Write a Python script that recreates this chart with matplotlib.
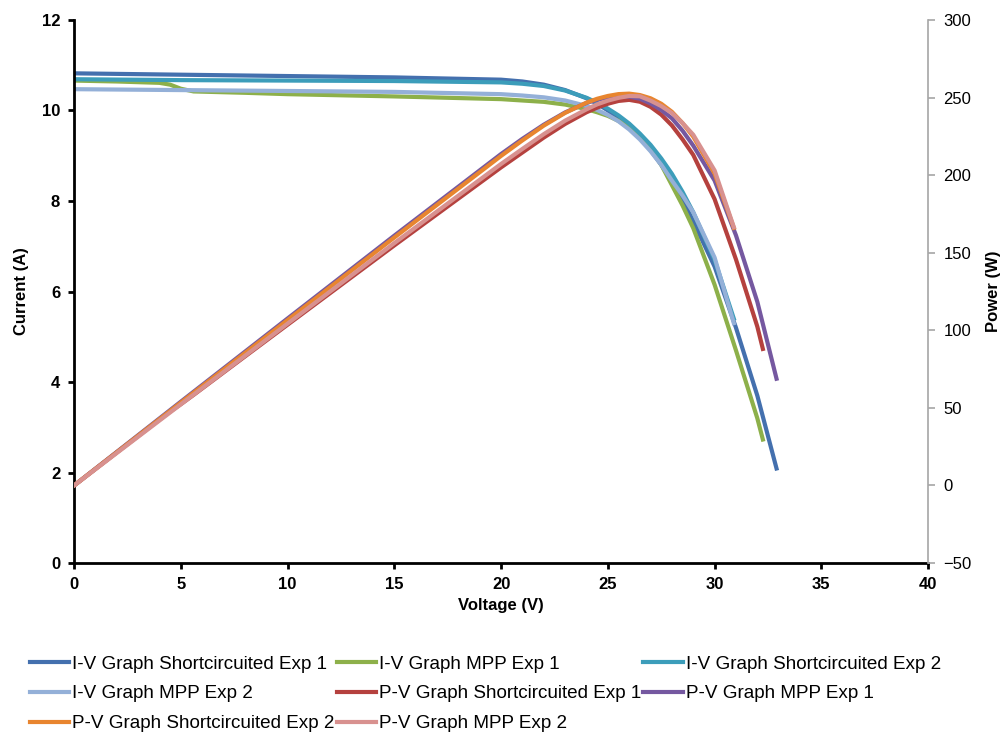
"""
IV / PV curves of the two experiments (shortcircuited vs MPP)
Left axis: current, right axis: power.
"""
import matplotlib
matplotlib.use("Agg")
import matplotlib.pyplot as plt

plt.rcParams['font.family'] = ['Liberation Sans', 'DejaVu Sans']

# --- Exp 1 sweep ending at 32.9 V
v_sc1 = [0, 5, 10, 15, 20, 21, 22, 23, 24, 24.5, 25, 25.5, 26, 26.5, 27, 27.5,
         28, 28.5, 29, 30, 31, 32, 32.9]
i_sc1 = [10.82, 10.79, 10.76, 10.73, 10.68, 10.64, 10.57, 10.45, 10.27, 10.15,
         10.00, 9.83, 9.64, 9.40, 9.12, 8.80, 8.45, 8.02, 7.55, 6.55, 5.20, 3.70, 2.09]
p_mpp1 = [0, 54, 107.6, 161, 213.6, 223.4, 232.5, 240.4, 246.5, 248.6, 250.0,
          250.7, 250.6, 249.2, 246.2, 242.0, 236.6, 228.6, 219.0, 196.5, 161.2,
          118.4, 68.8]

# --- Exp 1 sweep ending at 32.26 V
v_mpp1 = [0, 2, 4, 4.5, 5, 5.6, 8, 10, 15, 20, 22, 23, 24, 24.5, 25, 25.5, 26,
          26.5, 27, 27.5, 28, 28.5, 29, 30, 31, 32, 32.26]
i_mpp1 = [10.66, 10.64, 10.61, 10.57, 10.48, 10.42, 10.39, 10.36, 10.31, 10.25,
          10.19, 10.13, 10.03, 9.96, 9.88, 9.77, 9.62, 9.42, 9.17, 8.80, 8.35,
          7.90, 7.40, 6.15, 4.70, 3.20, 2.73]
p_sc1 = [0, 21.3, 42.4, 47.6, 52.4, 58.4, 83.1, 103.6, 154.7, 205.0, 224.2,
         233.0, 240.5, 243.5, 246.0, 247.8, 248.5, 247.3, 244.0, 239.0, 232.0,
         223.0, 213.0, 184.5, 145.7, 102.4, 88.0]

# --- Exp 2
v_exp2 = [0, 5, 10, 15, 20, 21, 22, 23, 24, 24.5, 25, 25.5, 26, 26.5, 27, 27.5,
          28, 28.5, 29, 30, 30.9]
i_sc2 = [10.69, 10.67, 10.66, 10.65, 10.62, 10.59, 10.54, 10.44, 10.28, 10.17,
         10.04, 9.89, 9.71, 9.49, 9.24, 8.94, 8.60, 8.20, 7.75, 6.70, 5.40]
i_mpp2 = [10.47, 10.45, 10.43, 10.41, 10.36, 10.33, 10.29, 10.22, 10.10, 10.01,
          9.90, 9.76, 9.58, 9.36, 9.10, 8.80, 8.45, 8.12, 7.75, 6.75, 5.30]
p_sc2 = [0, 53.4, 106.6, 159.8, 212.4, 222.4, 231.9, 240.1, 246.7, 249.2, 251.0,
         252.2, 252.5, 251.6, 249.5, 246.0, 240.8, 233.5, 224.8, 201.0, 166.0]
p_mpp2 = [0, 52.3, 104.3, 156.2, 207.2, 216.9, 226.4, 235.1, 242.4, 245.6, 248.0,
          249.8, 251.0, 250.8, 248.0, 244.5, 240.0, 233.5, 226.0, 203.0, 166.5]

labels = ['I-V Graph Shortcircuited Exp 1', 'I-V Graph MPP Exp 1',
          'I-V Graph Shortcircuited Exp 2', 'I-V Graph MPP Exp 2',
          'P-V Graph Shortcircuited Exp 1', 'P-V Graph MPP Exp 1',
          'P-V Graph Shortcircuited Exp 2', 'P-V Graph MPP Exp 2']
colors = ['#4470AE', '#8DB04A', '#3C9DBA', '#94B0D8',
          '#B5413E', '#7558A0', '#E8852F', '#D8918F']

fig = plt.figure(figsize=(10.06, 7.38), dpi=100)
ax = fig.add_axes([0.0736, 0.237, 0.849, 0.736])
ax2 = ax.twinx()

lw = 3
h = []
h += ax.plot(v_sc1, i_sc1, color=colors[0], lw=lw)
h += ax.plot(v_mpp1, i_mpp1, color=colors[1], lw=lw)
h += ax.plot(v_exp2, i_sc2, color=colors[2], lw=lw)
h += ax.plot(v_exp2, i_mpp2, color=colors[3], lw=lw)
h += ax2.plot(v_mpp1, p_sc1, color=colors[4], lw=lw)
h += ax2.plot(v_sc1, p_mpp1, color=colors[5], lw=lw)
h += ax2.plot(v_exp2, p_sc2, color=colors[6], lw=lw)
h += ax2.plot(v_exp2, p_mpp2, color=colors[7], lw=lw)

ax.set_xlim(0, 40)
ax.set_ylim(0, 12)
ax2.set_ylim(-50, 300)
ax.set_xticks(range(0, 41, 5))
ax.set_yticks(range(0, 13, 2))
ax2.set_yticks(range(-50, 301, 50))

for a in (ax, ax2):
    a.spines['top'].set_visible(False)
ax.spines['left'].set_linewidth(2)
ax.spines['bottom'].set_linewidth(2)
ax.spines['right'].set_visible(False)
ax2.spines['left'].set_visible(False)
ax2.spines['bottom'].set_visible(False)
ax2.spines['right'].set_color('#a6a6a6')
ax2.spines['right'].set_linewidth(1.2)

ax.tick_params(direction='out', length=4, width=2, labelsize=12, pad=6)
for t in ax.get_xticklabels() + ax.get_yticklabels():
    t.set_fontweight('bold')
ax2.tick_params(direction='out', length=5, width=1.2, color='#a6a6a6',
                labelsize=12, pad=6)

ax.set_xlabel('Voltage (V)', fontsize=12, fontweight='bold', labelpad=4)
ax.set_ylabel('Current (A)', fontsize=12, fontweight='bold', labelpad=9)
ax2.set_ylabel('Power (W)', fontsize=12, fontweight='bold', labelpad=10)

# legend is filled row by row in the original
order = [0, 3, 6, 1, 4, 7, 2, 5]
fig.legend([h[k] for k in order], [labels[k] for k in order],
           loc='upper left', bbox_to_anchor=(0.022, 0.122), ncol=3,
           frameon=False, fontsize=13.6, handlelength=2.1, handletextpad=0.15,
           columnspacing=0.1, labelspacing=0.66, borderaxespad=0)

fig.savefig('out.png', dpi=100)
